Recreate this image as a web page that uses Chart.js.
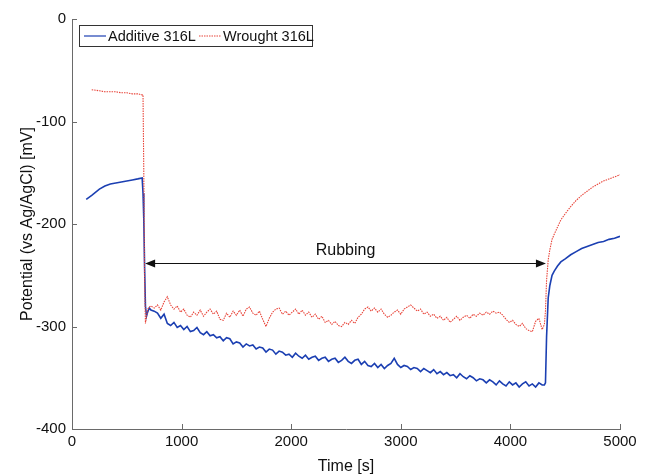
<!DOCTYPE html>
<html lang="en">
<head>
    <meta charset="UTF-8">
    <title>Open circuit potential</title>
    <script src="https://cdn.jsdelivr.net/npm/chart.js"></script>
    <style>
        html, body { margin: 0; padding: 0; background: #fff; }
        #wrap { width: 646px; height: 476px; position: relative; }
    </style>
</head>
<body>
<div id="wrap"><canvas id="ocp"></canvas></div>
<script>
// time [s], shared by both series
const times = [
    130, 180, 250, 300, 350, 400, 450, 500, 550, 600, 640, 648, 655, 662, 670, 680, 690, 705, 720,
    750, 780, 810, 840, 870, 900, 930, 960, 990, 1020, 1050, 1080, 1110, 1140, 1170, 1200, 1230, 1260, 1290, 1320,
    1350, 1380, 1410, 1440, 1470, 1500, 1530, 1560, 1590, 1620, 1650, 1680, 1710, 1740, 1770, 1800, 1830, 1860, 1890,
    1920, 1950, 1980, 2010, 2040, 2070, 2100, 2130, 2160, 2190, 2220, 2250, 2280, 2310, 2340, 2370, 2400, 2430, 2460,
    2490, 2520, 2550, 2580, 2610, 2640, 2670, 2700, 2730, 2760, 2790, 2820, 2850, 2880, 2910, 2940, 2970, 3000, 3030,
    3060, 3090, 3120, 3150, 3180, 3210, 3240, 3270, 3300, 3330, 3360, 3390, 3420, 3450, 3480, 3510, 3540, 3570, 3600,
    3630, 3660, 3690, 3720, 3750, 3780, 3810, 3840, 3870, 3900, 3930, 3960, 3990, 4020, 4050, 4080, 4110, 4140, 4170,
    4200, 4230, 4260, 4290,
    4310, 4320, 4330, 4345, 4360, 4380, 4400, 4430, 4460, 4500, 4550, 4600, 4650, 4700, 4750, 4800, 4850, 4900, 4950, 5000
];

// potential [mV]
const additive = [
    -176, -172, -166, -163, -161, -160, -159, -158, -157, -156, -155, -170, -195, -240, -280, -290, -286, -282, -284,
    -285, -287, -292, -288, -297, -299, -296, -301, -299, -303, -300, -305, -304, -301, -306, -308, -305, -309, -308, -311,
    -310, -314, -311, -312, -317, -315, -316, -320, -317, -319, -318, -322, -320, -321, -325, -322, -323, -327, -324,
    -325, -328, -327, -330, -326, -329, -331, -328, -332, -330, -329, -333, -331, -330, -334, -332, -331, -335, -333,
    -330, -334, -336, -333, -332, -337, -334, -338, -339, -336, -340, -337, -341, -338, -336, -331, -337, -340, -338,
    -339, -342, -340, -341, -344, -341, -343, -345, -342, -346, -344, -347, -345, -348, -347, -350, -346, -349, -351,
    -348, -350, -353, -351, -352, -355, -352, -354, -357, -353, -356, -358, -354, -357, -355, -359, -356, -354, -358,
    -356, -359, -355, -357,
    -357, -355, -310, -272, -260, -250, -246, -241, -237, -234, -230, -227, -224, -222, -220, -218, -217, -215, -214, -212
];

const wrought = [
    null, -69, -70, -71, -71, -71, -72, -72, -73, -73, -74, -74, -150, -250, -297, -290, -283, -281, -280,
    -282, -279, -284, -276, -271, -279, -283, -280, -286, -283, -289, -291, -286, -289, -284, -290, -286, -283, -288, -285,
    -293, -294, -287, -291, -285, -289, -284, -290, -283, -281, -287, -289, -285, -293, -300, -292, -286, -283, -282,
    -288, -285, -289, -286, -283, -288, -284, -289, -286, -291, -288, -293, -290, -296, -294, -298, -295, -299, -300,
    -296, -298, -294, -297, -291, -288, -283, -281, -285, -282, -286, -283, -288, -291, -289, -286, -284, -288, -283,
    -281, -279, -282, -285, -283, -288, -286, -290, -288, -292, -290, -294, -291, -296, -293, -290, -294, -291, -289,
    -292, -288, -290, -287, -289, -286, -288, -285, -287, -286, -289, -293, -296, -294, -298, -300, -297, -302, -304,
    -305, -295, -292, -303,
    -298, -285, -255, -235, -225, -215, -210, -203, -196, -190, -183, -177, -172, -168, -164, -161, -158, -156, -154, -152
];

const seriesNames = ['Additive 316L', 'Wrought 316L'];
const xTicks = [0, 1000, 2000, 3000, 4000, 5000];
const yTicks = [0, -100, -200, -300, -400];

// rubbing interval annotation
const rubStart = 667;
const rubEnd = 4324;
const rubLevel = -238;

const FONT = '"Liberation Sans", Arial, sans-serif';
const BLUE = '#1b3fb2';
const RED = '#e8453a';

// MATLAB style inward ticks, legend box and rubbing arrow
const decor = {
    id: 'decor',
    afterDraw(chart) {
        const ctx = chart.ctx;
        const xs = chart.scales.x, ys = chart.scales.y;
        const area = chart.chartArea;
        ctx.save();
        ctx.strokeStyle = '#6a6a6a';
        ctx.lineWidth = 1;
        ctx.beginPath();
        xTicks.forEach(t => {
            const px = Math.round(xs.getPixelForValue(t)) + 0.5;
            ctx.moveTo(px, area.bottom);
            ctx.lineTo(px, area.bottom - 5);
        });
        yTicks.forEach(t => {
            const py = Math.round(ys.getPixelForValue(t)) + 0.5;
            ctx.moveTo(area.left, py);
            ctx.lineTo(area.left + 5, py);
        });
        ctx.stroke();

        // arrow
        const x1 = xs.getPixelForValue(rubStart);
        const x2 = xs.getPixelForValue(rubEnd);
        const ay = Math.round(ys.getPixelForValue(rubLevel)) + 0.5;
        ctx.strokeStyle = '#111';
        ctx.fillStyle = '#111';
        ctx.beginPath();
        ctx.moveTo(x1 + 8, ay);
        ctx.lineTo(x2 - 8, ay);
        ctx.stroke();
        ctx.beginPath();
        ctx.moveTo(x1, ay);
        ctx.lineTo(x1 + 10, ay - 4);
        ctx.lineTo(x1 + 10, ay + 4);
        ctx.closePath();
        ctx.fill();
        ctx.beginPath();
        ctx.moveTo(x2, ay);
        ctx.lineTo(x2 - 10, ay - 4);
        ctx.lineTo(x2 - 10, ay + 4);
        ctx.closePath();
        ctx.fill();
        ctx.font = '16px ' + FONT;
        ctx.textAlign = 'center';
        ctx.textBaseline = 'bottom';
        ctx.fillStyle = '#111';
        ctx.fillText('Rubbing', (x1 + x2) / 2, ay - 5);

        // legend
        const lx = area.left + 7, ly = area.top + 6, lw = 233, lh = 21;
        ctx.fillStyle = '#fff';
        ctx.fillRect(lx, ly, lw, lh);
        ctx.strokeStyle = '#333';
        ctx.strokeRect(lx + 0.5, ly + 0.5, lw, lh);
        const my = ly + lh / 2 + 0.5;
        ctx.font = '14.5px ' + FONT;
        ctx.textAlign = 'left';
        ctx.textBaseline = 'middle';
        ctx.strokeStyle = BLUE;
        ctx.lineWidth = 1.2;
        ctx.beginPath();
        ctx.moveTo(lx + 5, my);
        ctx.lineTo(lx + 27, my);
        ctx.stroke();
        ctx.fillStyle = '#111';
        ctx.fillText(seriesNames[0], lx + 29, my + 1);
        ctx.strokeStyle = RED;
        ctx.setLineDash([1.5, 1]);
        ctx.beginPath();
        ctx.moveTo(lx + 120, my);
        ctx.lineTo(lx + 142, my);
        ctx.stroke();
        ctx.setLineDash([]);
        ctx.fillText(seriesNames[1], lx + 144, my + 1);
        ctx.restore();
    }
};

new Chart(document.getElementById('ocp'), {
    type: 'line',
    data: {
        datasets: [
            {
                label: seriesNames[0],
                data: times.map((t, i) => ({ x: t, y: additive[i] })),
                borderColor: BLUE,
                borderWidth: 1.6,
                pointRadius: 0,
                tension: 0,
                order: 2
            },
            {
                label: seriesNames[1],
                data: times.map((t, i) => ({ x: t, y: wrought[i] })),
                borderColor: RED,
                borderWidth: 1.1,
                borderDash: [1.5, 1],
                pointRadius: 0,
                tension: 0,
                spanGaps: false,
                order: 1
            }
        ]
    },
    options: {
        responsive: true,
        maintainAspectRatio: false,
        animation: false,
        layout: { padding: { top: 19, right: 26, left: 0, bottom: 0 } },
        plugins: {
            legend: { display: false },
            tooltip: { enabled: false }
        },
        scales: {
            x: {
                type: 'linear',
                min: 0,
                max: 5000,
                afterBuildTicks: s => { s.ticks = xTicks.map(v => ({ value: v })); },
                afterFit: s => { s.height = 47; },
                grid: { display: false, drawTicks: false },
                border: { display: true, color: '#6a6a6a', width: 1 },
                ticks: { color: '#111', font: { family: FONT, size: 15 }, padding: 4, maxRotation: 0, callback: v => String(v) },
                title: { display: true, text: 'Time [s]', color: '#111', font: { family: FONT, size: 16 }, padding: { top: 0, bottom: 0 } }
            },
            y: {
                min: -400,
                max: 0,
                afterBuildTicks: s => { s.ticks = yTicks.map(v => ({ value: v })); },
                afterFit: s => { s.width = 72; },
                grid: { display: false, drawTicks: false },
                border: { display: true, color: '#6a6a6a', width: 1 },
                ticks: { color: '#111', font: { family: FONT, size: 15 }, padding: 6, callback: v => String(v) },
                title: { display: true, text: 'Potential (vs Ag/AgCl) [mV]', color: '#111', font: { family: FONT, size: 16 }, padding: { top: 18, bottom: 0 } }
            }
        }
    },
    plugins: [decor]
});
</script>
</body>
</html>
